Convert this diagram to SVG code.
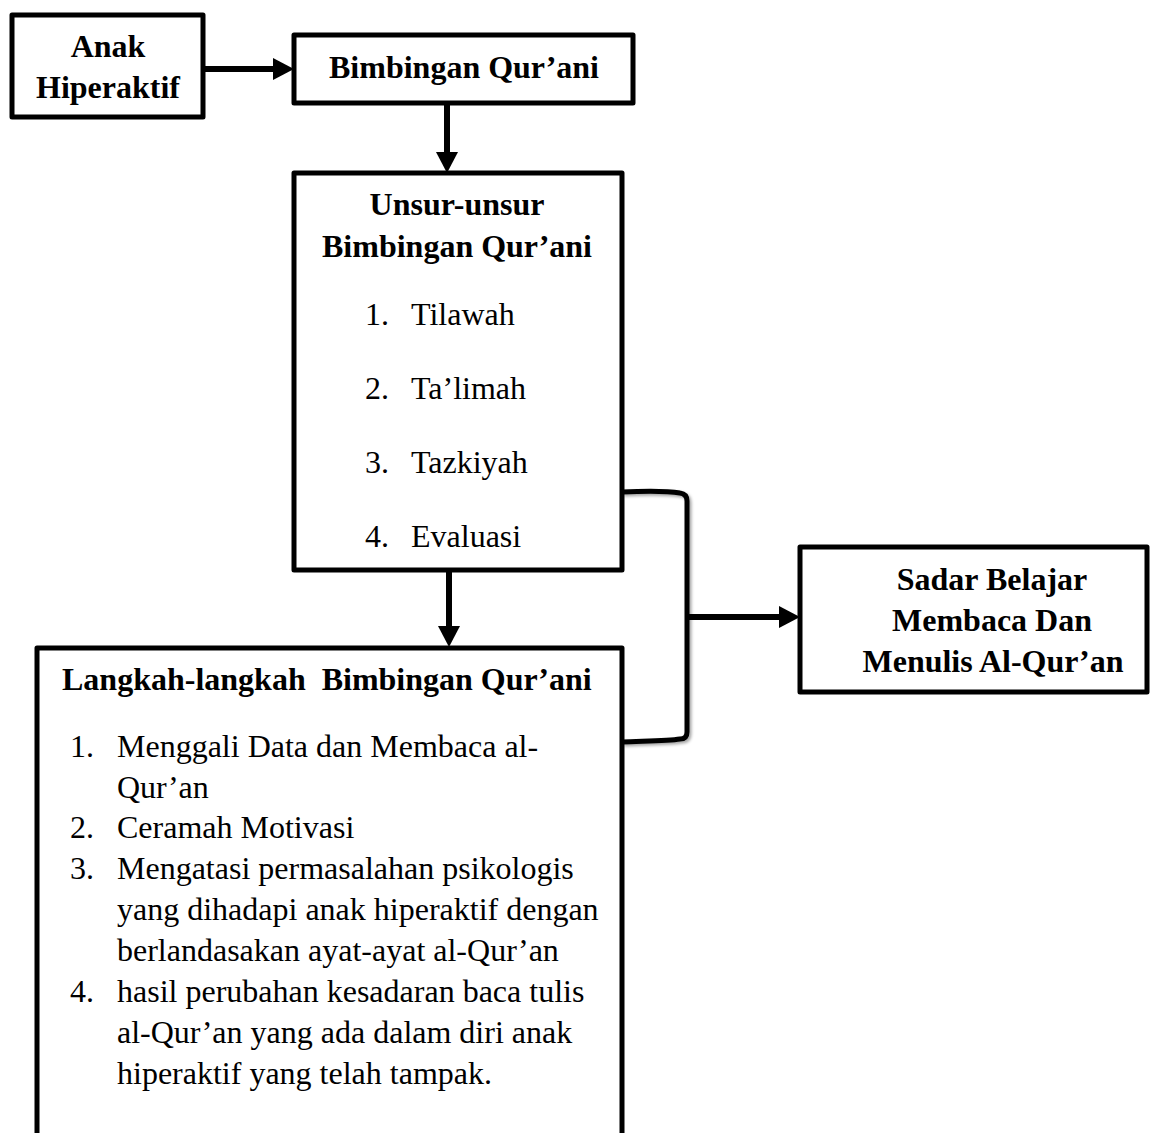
<svg xmlns="http://www.w3.org/2000/svg" width="1152" height="1133" viewBox="0 0 1152 1133">
<style>
  .box{fill:#fff;stroke:#000;stroke-width:5;stroke-linejoin:round}
  .t{font-family:"Liberation Serif","Times New Roman",serif;font-size:32px;fill:#000}
  .b{font-weight:bold}
  .c{text-anchor:middle}
  .con{fill:none;stroke:#000;stroke-width:6}
</style>
<defs>
  <marker id="ah" markerUnits="userSpaceOnUse" markerWidth="21" markerHeight="24" refX="0" refY="12" orient="auto">
    <path d="M0,1 L21,12 L0,23 z" fill="#000"/>
  </marker>
  <filter id="sh" x="-20%" y="-20%" width="140%" height="140%">
    <feDropShadow dx="2" dy="2" stdDeviation="1.8" flood-color="#000" flood-opacity="0.35"/>
  </filter>
</defs>
<rect width="1152" height="1133" fill="#fff"/>

<g id="connectors">
  <line class="con" x1="203" y1="69" x2="273" y2="69" marker-end="url(#ah)"/>
  <line class="con" x1="447" y1="103" x2="447" y2="152" marker-end="url(#ah)"/>
  <line class="con" x1="449" y1="570" x2="449" y2="626" marker-end="url(#ah)"/>
  <path class="con" style="stroke-width:5" filter="url(#sh)" d="M622,492 C645,491 668,491 680,493 Q687,494 687,501 L687,732 Q687,739 680,739 C668,741 645,741 622,742"/>
  <line class="con" x1="687" y1="617" x2="779" y2="617" marker-end="url(#ah)"/>
</g>

<g id="node-anak">
  <rect class="box" x="12" y="15" width="191" height="102"/>
  <text class="t b c" x="108" y="57">Anak</text>
  <text class="t b c" x="108" y="98">Hiperaktif</text>
</g>

<g id="node-bimbingan">
  <rect class="box" x="294" y="35" width="339" height="68"/>
  <text class="t b c" x="464" y="78">Bimbingan Qur’ani</text>
</g>

<g id="node-unsur">
  <rect class="box" x="294" y="173" width="328" height="397"/>
  <text class="t b c" x="457" y="215">Unsur-unsur</text>
  <text class="t b c" x="457" y="257">Bimbingan Qur’ani</text>
  <text class="t" x="365" y="325">1.</text><text class="t" x="411" y="325">Tilawah</text>
  <text class="t" x="365" y="399">2.</text><text class="t" x="411" y="399">Ta’limah</text>
  <text class="t" x="365" y="473">3.</text><text class="t" x="411" y="473">Tazkiyah</text>
  <text class="t" x="365" y="547">4.</text><text class="t" x="411" y="547">Evaluasi</text>
</g>

<g id="node-langkah">
  <rect class="box" x="37" y="648" width="585" height="520"/>
  <text class="t b" x="62" y="690" style="white-space:pre">Langkah-langkah  Bimbingan Qur’ani</text>
  <text class="t" x="70" y="757">1.</text><text class="t" x="117" y="757">Menggali Data dan Membaca al-</text>
  <text class="t" x="117" y="798">Qur’an</text>
  <text class="t" x="70" y="838">2.</text><text class="t" x="117" y="838">Ceramah Motivasi</text>
  <text class="t" x="70" y="879">3.</text><text class="t" x="117" y="879">Mengatasi permasalahan psikologis</text>
  <text class="t" x="117" y="920">yang dihadapi anak hiperaktif dengan</text>
  <text class="t" x="117" y="961">berlandasakan ayat-ayat al-Qur’an</text>
  <text class="t" x="70" y="1002">4.</text><text class="t" x="117" y="1002">hasil perubahan kesadaran baca tulis</text>
  <text class="t" x="117" y="1043">al-Qur’an yang ada dalam diri anak</text>
  <text class="t" x="117" y="1084">hiperaktif yang telah tampak.</text>
</g>

<g id="node-sadar">
  <rect class="box" x="800" y="547" width="347" height="145"/>
  <text class="t b c" x="992" y="590">Sadar Belajar</text>
  <text class="t b c" x="992" y="631">Membaca Dan</text>
  <text class="t b c" x="993" y="672">Menulis Al-Qur’an</text>
</g>
</svg>
